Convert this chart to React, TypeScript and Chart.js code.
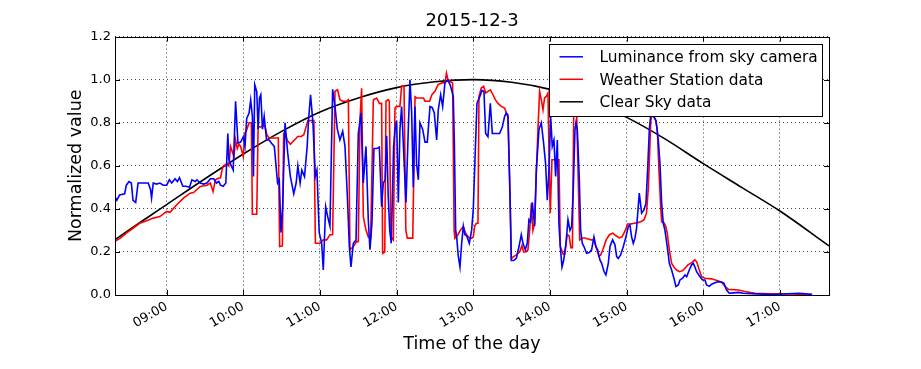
import React, { useEffect, useRef } from "react";
import { Chart, registerables } from "chart.js";

Chart.register(...registerables);

const chartTitle = "2015-12-3";
const xAxisLabel = "Time of the day";
const yAxisLabel = "Normalized value";
const seriesNames = ["Luminance from sky camera", "Weather Station data", "Clear Sky data"];
const seriesColors = ["#0000ff", "#ff0000", "#000000"];
const hourTicks = [9, 10, 11, 12, 13, 14, 15, 16, 17];
const valueTicks = [0, 0.2, 0.4, 0.6, 0.8, 1.0, 1.2];
const timeRange = [8.326, 17.64];

// [hour of day, normalized value]
const cameraData: [number, number][] = [
  [8.32,0.46],[8.35,0.44],[8.386,0.465],[8.452,0.47],[8.474,0.51],[8.509,0.527],[8.539,0.52],[8.561,0.44],[8.596,0.43],[8.627,0.52],[8.671,0.52],[8.715,0.52],[8.759,0.52],[8.789,0.49],[8.803,0.45],[8.825,0.52],[8.868,0.515],[8.912,0.52],[8.956,0.51],[9.0,0.51],[9.035,0.535],[9.066,0.52],[9.11,0.54],[9.14,0.527],[9.167,0.545],[9.211,0.505],[9.254,0.505],[9.298,0.5],[9.329,0.535],[9.373,0.527],[9.395,0.535],[9.439,0.52],[9.482,0.515],[9.526,0.52],[9.57,0.54],[9.614,0.54],[9.649,0.52],[9.68,0.527],[9.702,0.51],[9.737,0.505],[9.772,0.52],[9.798,0.75],[9.811,0.63],[9.842,0.6],[9.868,0.58],[9.899,0.9],[9.93,0.705],[9.965,0.71],[10.0,0.735],[10.022,0.69],[10.044,0.82],[10.075,0.845],[10.096,0.905],[10.118,0.83],[10.132,0.55],[10.149,0.977],[10.175,0.945],[10.193,0.77],[10.211,0.915],[10.228,0.93],[10.25,0.77],[10.272,0.83],[10.303,0.72],[10.338,0.72],[10.368,0.705],[10.404,0.69],[10.447,0.52],[10.469,0.535],[10.491,0.29],[10.513,0.41],[10.544,0.8],[10.579,0.66],[10.614,0.55],[10.658,0.47],[10.689,0.52],[10.711,0.6],[10.741,0.52],[10.763,0.58],[10.798,0.55],[10.833,0.69],[10.851,0.815],[10.877,0.93],[10.908,0.8],[10.939,0.55],[10.96,0.58],[10.99,0.29],[11.022,0.24],[11.043,0.116],[11.074,0.41],[11.1,0.365],[11.13,0.32],[11.165,0.955],[11.196,0.875],[11.226,0.77],[11.26,0.72],[11.296,0.76],[11.326,0.69],[11.357,0.46],[11.383,0.225],[11.404,0.13],[11.435,0.24],[11.47,0.255],[11.5,0.75],[11.535,0.845],[11.565,0.52],[11.6,0.69],[11.63,0.35],[11.652,0.21],[11.678,0.335],[11.704,0.68],[11.739,0.68],[11.774,0.687],[11.804,0.41],[11.826,0.52],[11.85,0.535],[11.87,0.74],[11.89,0.46],[11.91,0.3],[11.93,0.24],[11.96,0.69],[11.98,0.77],[12.0,0.81],[12.022,0.43],[12.043,0.77],[12.065,0.875],[12.096,0.63],[12.122,0.43],[12.152,0.77],[12.174,1.0],[12.196,0.845],[12.217,0.5],[12.239,0.875],[12.26,0.61],[12.283,0.535],[12.304,0.8],[12.339,0.77],[12.37,0.71],[12.4,0.71],[12.435,0.875],[12.465,0.87],[12.491,0.845],[12.522,0.72],[12.543,0.86],[12.574,0.93],[12.6,0.875],[12.63,0.985],[12.665,1.0],[12.696,0.977],[12.717,0.953],[12.739,0.92],[12.752,0.72],[12.77,0.3],[12.783,0.27],[12.804,0.18],[12.826,0.13],[12.848,0.24],[12.87,0.32],[12.891,0.28],[12.913,0.275],[12.948,0.24],[12.978,0.3],[13.0,0.4],[13.017,0.58],[13.048,0.89],[13.083,0.92],[13.113,0.95],[13.139,0.945],[13.161,0.75],[13.191,0.735],[13.222,0.89],[13.248,0.75],[13.278,0.75],[13.309,0.75],[13.343,0.75],[13.378,0.78],[13.409,0.83],[13.43,0.845],[13.452,0.83],[13.474,0.535],[13.496,0.16],[13.526,0.16],[13.561,0.17],[13.596,0.225],[13.626,0.28],[13.648,0.24],[13.678,0.21],[13.704,0.24],[13.726,0.35],[13.748,0.34],[13.77,0.43],[13.8,0.32],[13.822,0.58],[13.857,0.77],[13.887,0.8],[13.917,0.705],[13.943,0.61],[13.965,0.44],[13.987,0.58],[14.009,0.83],[14.03,0.69],[14.052,0.72],[14.074,0.55],[14.096,0.72],[14.117,0.33],[14.135,0.225],[14.157,0.13],[14.178,0.16],[14.209,0.24],[14.235,0.35],[14.261,0.3],[14.283,0.318],[14.304,0.49],[14.326,0.767],[14.339,0.8],[14.357,0.767],[14.383,0.535],[14.4,0.3],[14.422,0.24],[14.443,0.225],[14.478,0.194],[14.513,0.197],[14.543,0.21],[14.574,0.27],[14.6,0.225],[14.622,0.21],[14.652,0.163],[14.674,0.147],[14.704,0.11],[14.73,0.093],[14.761,0.147],[14.783,0.225],[14.817,0.256],[14.848,0.233],[14.87,0.178],[14.891,0.17],[14.922,0.186],[14.957,0.225],[14.991,0.27],[15.022,0.318],[15.043,0.326],[15.065,0.27],[15.087,0.24],[15.109,0.264],[15.13,0.31],[15.165,0.473],[15.196,0.38],[15.226,0.395],[15.252,0.426],[15.274,0.58],[15.296,0.767],[15.313,0.83],[15.33,0.89],[15.348,0.83],[15.383,0.81],[15.413,0.72],[15.435,0.61],[15.457,0.426],[15.478,0.333],[15.5,0.3],[15.53,0.225],[15.557,0.147],[15.587,0.116],[15.617,0.078],[15.643,0.04],[15.674,0.047],[15.696,0.07],[15.73,0.078],[15.761,0.093],[15.783,0.085],[15.817,0.116],[15.848,0.14],[15.87,0.147],[15.891,0.13],[15.913,0.108],[15.957,0.085],[15.991,0.07],[16.022,0.07],[16.043,0.047],[16.078,0.04],[16.109,0.05],[16.152,0.057],[16.196,0.062],[16.239,0.06],[16.27,0.054],[16.304,0.023],[16.339,0.008],[16.391,0.01],[16.457,0.012],[16.522,0.008],[16.7,0.005],[16.9,0.002],[17.1,0.006],[17.25,0.008],[17.42,0.003]
];

const weatherData: [number, number][] = [
  [8.32,0.248],[8.4,0.265],[8.474,0.287],[8.56,0.31],[8.649,0.333],[8.74,0.345],[8.825,0.357],[8.912,0.364],[9.0,0.388],[9.044,0.384],[9.132,0.419],[9.219,0.45],[9.307,0.473],[9.351,0.476],[9.439,0.504],[9.526,0.51],[9.57,0.52],[9.605,0.48],[9.636,0.535],[9.68,0.543],[9.702,0.543],[9.732,0.597],[9.768,0.605],[9.789,0.61],[9.811,0.6],[9.833,0.69],[9.855,0.667],[9.877,0.643],[9.899,0.72],[9.921,0.68],[9.943,0.7],[9.965,0.69],[10.0,0.643],[10.018,0.75],[10.044,0.767],[10.075,0.8],[10.105,0.8],[10.118,0.375],[10.175,0.375],[10.193,0.783],[10.228,0.78],[10.25,0.787],[10.281,0.786],[10.307,0.744],[10.338,0.729],[10.456,0.729],[10.474,0.225],[10.509,0.228],[10.526,0.75],[10.544,0.76],[10.57,0.72],[10.614,0.7],[10.667,0.72],[10.711,0.736],[10.754,0.736],[10.789,0.744],[10.82,0.783],[10.842,0.81],[10.921,0.81],[10.94,0.24],[11.0,0.24],[11.043,0.256],[11.087,0.256],[11.13,0.28],[11.165,0.28],[11.196,0.946],[11.23,0.953],[11.26,0.907],[11.296,0.9],[11.348,0.9],[11.37,0.907],[11.391,0.21],[11.435,0.225],[11.478,0.248],[11.5,0.248],[11.522,0.814],[11.543,0.96],[11.565,0.364],[11.6,0.302],[11.63,0.27],[11.661,0.264],[11.696,0.907],[11.739,0.915],[11.774,0.89],[11.804,0.89],[11.817,0.194],[11.845,0.2],[11.861,0.9],[11.89,0.907],[11.904,0.9],[11.926,0.27],[11.957,0.256],[11.978,0.868],[12.0,0.876],[12.043,0.876],[12.065,0.97],[12.096,0.97],[12.12,0.3],[12.14,0.264],[12.21,0.264],[12.24,0.92],[12.26,0.915],[12.35,0.915],[12.37,0.9],[12.43,0.9],[12.46,0.93],[12.5,0.946],[12.54,0.977],[12.59,0.985],[12.63,0.985],[12.65,1.03],[12.67,1.0],[12.7,0.99],[12.73,0.985],[12.75,0.3],[12.76,0.264],[12.8,0.28],[12.83,0.3],[12.87,0.318],[12.9,0.287],[12.95,0.264],[12.98,0.264],[13.0,0.27],[13.017,0.318],[13.039,0.333],[13.061,0.333],[13.074,0.922],[13.104,0.961],[13.135,0.969],[13.161,0.938],[13.191,0.946],[13.222,0.953],[13.257,0.93],[13.287,0.907],[13.322,0.89],[13.365,0.876],[13.409,0.868],[13.43,0.845],[13.452,0.837],[13.483,0.4],[13.496,0.17],[13.526,0.178],[13.561,0.186],[13.604,0.2],[13.635,0.23],[13.657,0.2],[13.683,0.2],[13.713,0.21],[13.735,0.3],[13.757,0.426],[13.778,0.3],[13.8,0.333],[13.822,0.566],[13.843,0.767],[13.865,0.946],[13.887,0.907],[13.909,0.86],[13.93,0.915],[13.952,0.922],[13.974,0.938],[13.99,0.61],[14.004,0.38],[14.026,0.628],[14.083,0.628],[14.117,0.628],[14.135,0.225],[14.172,0.19],[14.194,0.19],[14.224,0.28],[14.25,0.275],[14.272,0.22],[14.293,0.22],[14.31,0.845],[14.328,0.95],[14.345,0.89],[14.366,0.58],[14.388,0.256],[14.422,0.265],[14.453,0.265],[14.496,0.26],[14.539,0.256],[14.569,0.256],[14.603,0.22],[14.638,0.18],[14.66,0.185],[14.69,0.21],[14.733,0.256],[14.776,0.28],[14.819,0.287],[14.862,0.275],[14.905,0.265],[14.94,0.27],[14.983,0.3],[15.013,0.33],[15.056,0.33],[15.099,0.333],[15.142,0.336],[15.185,0.34],[15.228,0.35],[15.259,0.38],[15.284,0.5],[15.315,0.806],[15.336,0.85],[15.358,0.83],[15.379,0.81],[15.4,0.77],[15.422,0.58],[15.444,0.41],[15.457,0.34],[15.487,0.336],[15.509,0.32],[15.53,0.287],[15.557,0.21],[15.587,0.147],[15.617,0.13],[15.652,0.116],[15.69,0.108],[15.73,0.113],[15.76,0.124],[15.8,0.14],[15.85,0.15],[15.89,0.163],[15.913,0.155],[15.948,0.116],[15.978,0.085],[16.02,0.078],[16.11,0.075],[16.198,0.065],[16.241,0.058],[16.284,0.04],[16.328,0.026],[16.457,0.023],[16.543,0.016],[16.672,0.008],[16.888,0.005],[17.147,0.005],[17.42,0.0]
];

const clearSkyData: [number, number][] = [
  [8.326,0.257],[8.5,0.3],[8.75,0.36],[9.0,0.42],[9.5,0.54],[10.0,0.655],[10.5,0.76],[11.0,0.85],[11.5,0.915],[12.0,0.963],[12.5,0.99],[13.0,1.0],[13.5,0.988],[14.0,0.955],[14.5,0.9],[15.0,0.825],[15.5,0.725],[16.0,0.61],[16.5,0.5],[17.0,0.39],[17.64,0.228]
];

const FONT = "'DejaVu Sans', 'Bitstream Vera Sans', sans-serif";

const toPoints = (d: [number, number][]) => d.map(([x, y]) => ({ x, y }));

const framePlugin = {
  id: "mplFrame",
  afterDraw(chart: any) {
    const { ctx, chartArea: a, scales } = chart;
    ctx.save();
    ctx.strokeStyle = "#000";
    ctx.lineWidth = 1;
    ctx.beginPath();
    const tl = 5;
    for (const h of hourTicks) {
      const x = Math.round(scales.x.getPixelForValue(h)) + 0.5;
      ctx.moveTo(x, a.bottom);
      ctx.lineTo(x, a.bottom - tl);
      ctx.moveTo(x, a.top);
      ctx.lineTo(x, a.top + tl);
    }
    for (const v of valueTicks) {
      const y = Math.round(scales.y.getPixelForValue(v)) + 0.5;
      ctx.moveTo(a.left, y);
      ctx.lineTo(a.left + tl, y);
      ctx.moveTo(a.right, y);
      ctx.lineTo(a.right - tl, y);
    }
    ctx.stroke();
    ctx.strokeRect(Math.round(a.left) + 0.5, Math.round(a.top) + 0.5, Math.round(a.right - a.left), Math.round(a.bottom - a.top));

    // legend box (upper right, inside axes)
    const bw = 273;
    const bh = 72;
    const bx = Math.round(a.right - 7.5 - bw) + 0.5;
    const by = Math.round(a.top + 7.5) + 0.5;
    ctx.fillStyle = "#fff";
    ctx.fillRect(bx, by, bw, bh);
    ctx.strokeRect(bx, by, bw, bh);
    ctx.font = `15.4px ${FONT}`;
    ctx.textBaseline = "alphabetic";
    ctx.textAlign = "left";
    seriesNames.forEach((name, i) => {
      const ry = by + 12.3 + i * 22.5;
      ctx.strokeStyle = seriesColors[i];
      ctx.lineWidth = 1.5;
      ctx.beginPath();
      ctx.moveTo(bx + 10, ry);
      ctx.lineTo(bx + 33.5, ry);
      ctx.stroke();
      ctx.fillStyle = "#000";
      ctx.fillText(name, bx + 50, ry + 5.5);
    });
    ctx.restore();
  },
};

export default function App() {
  const ref = useRef<HTMLCanvasElement>(null);
  useEffect(() => {
    if (!ref.current) return;
    const gridCommon = {
      color: "rgba(0,0,0,0.75)",
      lineWidth: 1,
      drawTicks: false,
      borderDash: [1, 3],
    };
    const chart = new Chart(ref.current, {
      type: "line",
      data: {
        datasets: [
          { label: seriesNames[0], data: toPoints(cameraData), borderColor: seriesColors[0], borderWidth: 1.6, pointRadius: 0, fill: false, tension: 0 },
          { label: seriesNames[1], data: toPoints(weatherData), borderColor: seriesColors[1], borderWidth: 1.6, pointRadius: 0, fill: false, tension: 0 },
          { label: seriesNames[2], data: toPoints(clearSkyData), borderColor: seriesColors[2], borderWidth: 1.6, pointRadius: 0, fill: false, cubicInterpolationMode: "monotone" },
        ],
      },
      options: {
        animation: false,
        responsive: true,
        maintainAspectRatio: false,
        devicePixelRatio: 1,
        events: [],
        layout: { padding: { left: 0, right: 92, top: 0, bottom: 0 } },
        plugins: {
          legend: { display: false },
          tooltip: { enabled: false },
          title: {
            display: true,
            text: chartTitle,
            color: "#000",
            fullSize: false,
            font: { family: FONT, size: 18, weight: "normal", lineHeight: 1.2 },
            padding: { top: 11, bottom: 4 },
          },
        },
        scales: {
          x: {
            type: "linear",
            min: timeRange[0],
            max: timeRange[1],
            afterBuildTicks: (s: any) => { s.ticks = hourTicks.map((v) => ({ value: v })); },
            afterFit: (s: any) => { s.height = 74; },
            grid: gridCommon as any,
            border: { display: false, dash: [1, 3] },
            ticks: {
              color: "#000",
              font: { family: FONT, size: 13 },
              minRotation: 30,
              maxRotation: 30,
              padding: 4,
              autoSkip: false,
              callback: (v: any) => `${String(v).padStart(2, "0")}:00`,
            },
            title: {
              display: true,
              text: xAxisLabel,
              color: "#000",
              font: { family: FONT, size: 17.5, lineHeight: 1.2 },
              padding: { top: 0, bottom: 14.5 },
            },
          },
          y: {
            type: "linear",
            min: 0,
            max: 1.2,
            afterBuildTicks: (s: any) => { s.ticks = valueTicks.map((v) => ({ value: v })); },
            afterFit: (s: any) => { s.width = 115; },
            grid: gridCommon as any,
            border: { display: false, dash: [1, 3] },
            ticks: {
              color: "#000",
              font: { family: FONT, size: 13 },
              padding: 4,
              callback: (v: any) => Number(v).toFixed(1),
            },
            title: {
              display: true,
              text: yAxisLabel,
              color: "#000",
              font: { family: FONT, size: 17.5, lineHeight: 1.2 },
              padding: { top: 66, bottom: 0 },
            },
          },
        },
      },
      plugins: [framePlugin],
    });
    return () => chart.destroy();
  }, []);
  return (
    <div style={{ position: "absolute", left: 0, top: 0, width: 921, height: 369, background: "#fff" }}>
      <canvas ref={ref} />
    </div>
  );
}
